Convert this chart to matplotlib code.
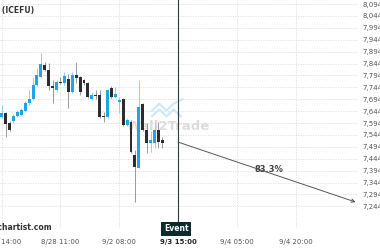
import matplotlib
matplotlib.use("Agg")
import matplotlib.pyplot as plt
import numpy as np

# candles (O, H, L, C), one per bar
opens = [7.619, 7.636, 7.594, 7.602, 7.623, 7.628, 7.644, 7.678, 7.695, 7.754,
         7.787, 7.838, 7.817, 7.749, 7.733, 7.766, 7.762, 7.779, 7.724, 7.796,
         7.787, 7.775, 7.762, 7.695, 7.712, 7.712, 7.623, 7.619, 7.741, 7.703,
         7.682, 7.695, 7.586, 7.598, 7.460, 7.405, 7.674, 7.565, 7.510, 7.510,
         7.565, 7.523]
highs = [7.670, 7.640, 7.602, 7.632, 7.649, 7.657, 7.686, 7.733, 7.783, 7.825,
         7.888, 7.850, 7.846, 7.775, 7.775, 7.787, 7.808, 7.800, 7.808, 7.850,
         7.791, 7.779, 7.766, 7.724, 7.733, 7.733, 7.640, 7.737, 7.749, 7.745,
         7.703, 7.699, 7.615, 7.607, 7.481, 7.775, 7.678, 7.594, 7.560, 7.594,
         7.598, 7.535]
lows = [7.615, 7.535, 7.560, 7.594, 7.619, 7.623, 7.640, 7.670, 7.691, 7.749,
        7.783, 7.812, 7.733, 7.678, 7.724, 7.758, 7.754, 7.657, 7.720, 7.762,
        7.712, 7.754, 7.699, 7.691, 7.695, 7.615, 7.598, 7.615, 7.699, 7.699,
        7.636, 7.581, 7.581, 7.468, 7.262, 7.405, 7.560, 7.468, 7.472, 7.489,
        7.489, 7.489]
closes = [7.636, 7.590, 7.565, 7.623, 7.640, 7.649, 7.678, 7.695, 7.754, 7.796,
          7.842, 7.817, 7.749, 7.741, 7.766, 7.762, 7.791, 7.724, 7.796, 7.783,
          7.724, 7.762, 7.703, 7.712, 7.707, 7.619, 7.619, 7.733, 7.703, 7.716,
          7.691, 7.586, 7.607, 7.472, 7.409, 7.661, 7.565, 7.510, 7.523, 7.565,
          7.514, 7.510]

tick_pos = [0, 15, 30, 45, 60, 75]
tick_labels = ["8/26 14:00", "8/28 11:00", "9/2 08:00", "9/3 15:00", "9/4 05:00", "9/4 20:00"]
price_ticks = [8.094 - 0.05 * k for k in range(18)]

event_x = 45
arrow_start = 7.514
target_x = 90.3
target_price = 7.262
prob_label = "83.3%"

blue = "#1ea5e3"
dark = "#2b2d31"

fig = plt.figure(figsize=(3.8, 2.5), dpi=100)
ax = fig.add_axes([0, 0.088, 0.942, 0.912])
ax.set_xlim(-0.43, 90.9)
ax.set_ylim(7.153, 8.111)

for s in ax.spines.values():
    s.set_visible(False)

ax.set_yticks(price_ticks)
ax.set_yticklabels(["{:.3f}".format(p).replace(".", ",") for p in price_ticks])
ax.yaxis.tick_right()
ax.tick_params(axis="y", length=0, pad=3, labelsize=5, labelcolor="#555555")
ax.set_xticks(tick_pos)
ax.set_xticklabels(tick_labels)
ax.tick_params(axis="x", length=0, pad=8, labelsize=5, labelcolor="#555555")
xl = ax.get_xticklabels()
xl[3].set_fontweight("bold")
xl[3].set_color("#222222")
ax.grid(True, color="#dddddd", linestyle=(0, (1.5, 1.5)), linewidth=0.6)
ax.set_axisbelow(True)

# watermark (logo + name)
ax.plot([0.425, 0.445, 0.465, 0.485, 0.505], [0.49, 0.52, 0.49, 0.52, 0.49],
        transform=ax.transAxes, color="#cfe9f6", lw=1.6, zorder=1)
ax.plot([0.425, 0.445, 0.465, 0.485, 0.51], [0.515, 0.545, 0.515, 0.545, 0.565],
        transform=ax.transAxes, color="#cfe9f6", lw=1.6, zorder=1)
ax.text(0.355, 0.443, "Wall2Trade", transform=ax.transAxes, fontsize=9.5,
        fontweight="bold", color="#dcdcdc", ha="left", va="center", zorder=1)

x = np.arange(len(opens))
o = np.array(opens); c = np.array(closes)
up = c >= o
wick_cols = np.where(up, "#8fd0f0", "#999999")
ax.vlines(x, lows, highs, colors=wick_cols, linewidth=0.7, zorder=2)
body_b = np.minimum(o, c)
body_h = np.maximum(np.abs(c - o), 0.004)
ax.bar(x, body_h, bottom=body_b, width=0.75, color=np.where(up, blue, dark),
       linewidth=0, zorder=3)

# event line and label
ax.axvline(event_x, color="#2e3a3a", linewidth=0.8, zorder=4)
ax.text(event_x - 0.5, -0.004, "Event", transform=ax.get_xaxis_transform(),
        ha="center", va="center", fontsize=5.5, fontweight="bold", color="white",
        bbox=dict(boxstyle="square,pad=0.35", fc="#0e2b2c", ec="none"), zorder=5,
        clip_on=False)

ax.annotate("", xy=(target_x, target_price), xytext=(event_x, arrow_start),
            arrowprops=dict(arrowstyle="->", color="#555555", lw=0.7,
                            shrinkA=0, shrinkB=0, mutation_scale=6), zorder=4)
ax.text(68.2, 7.398, prob_label, fontsize=6, fontweight="bold", color="#444444",
        ha="center", va="center")

fig.text(0.09, 0.96, "Coffee (ICEFU)", fontsize=5.5, fontweight="bold",
         color="#333333", ha="right", va="center")
fig.text(0.138, 0.088, "www.economychartist.com", fontsize=5.5, fontweight="bold",
         color="#333333", ha="right", va="center")

fig.savefig("out.png", dpi=100)
